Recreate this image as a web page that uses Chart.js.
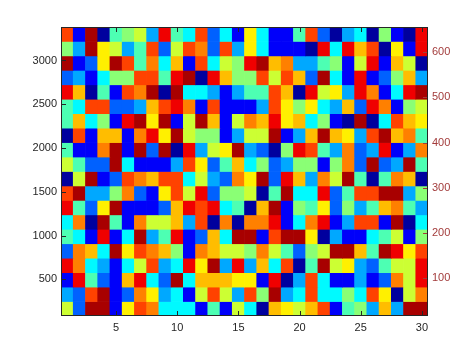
<!DOCTYPE html>
<html>
<head>
<meta charset="utf-8">
<script src="https://cdn.jsdelivr.net/npm/chart.js@4/dist/chart.umd.min.js"></script>
<style>
html,body{margin:0;padding:0;background:#fff;}
#wrap{width:474px;height:355px;}
</style>
</head>
<body>
<div id="wrap"><canvas id="c" width="474" height="355"></canvas></div>
<script>
// ---- data ----
const columns = Array.from({length:30},(_,i)=>i+1);
const rowCount = 20;
const rowStepLeft = 165;      // left-axis units per row
const rowStartLeft = 82.5;    // bottom edge of the first row (left axis)
const leftRange = [82.5, 3382.5];
const rightRange = [16, 656];
const xTicks = [5,10,15,20,25,30];
const leftTicks = [500,1000,1500,2000,2500,3000];
const rightTicks = [100,200,300,400,500,600];
// colour level of each jet step (0 = dark blue ... 13 = dark red)
const levelT = [0.03,0.12,0.22,0.29,0.37,0.45,0.51,0.575,0.64,0.69,0.75,0.81,0.89,0.96];
// cell levels, rows listed from top to bottom
const r01 = [11,1,13,0,5,6,7,3,12,5, 4,11,2,4,1,8,4,1,1,5, 11,2,0,3,4,0,6,1,0,12];
const r02 = [6,3,13,8,7,3,5,11,2,7, 11,10,2,11,3,8,4,1,1,1, 0,12,4,12,9,11,0,8,1,12];
const r03 = [13,1,2,8,13,11,5,10,4,9, 1,11,4,7,6,12,13,9,10,3, 3,5,6,1,7,12,1,9,7,0];
const r04 = [2,3,1,4,6,6,11,11,5,12, 13,0,12,9,6,6,11,7,11,9, 2,13,4,1,12,1,2,6,9,3];
const r05 = [12,9,0,5,1,11,10,13,0,13, 4,4,3,1,3,5,5,11,9,0, 12,7,8,3,12,10,1,4,12,13];
const r06 = [5,4,11,11,2,2,3,9,11,12, 10,1,11,1,1,1,3,11,8,6, 8,4,3,9,2,12,10,1,6,7];
const r07 = [5,9,4,6,1,12,13,8,13,1, 7,13,9,1,7,10,9,12,8,9, 4,6,1,0,13,0,4,11,9,8];
const r08 = [0,11,1,9,9,1,10,12,8,13, 7,6,6,1,3,7,7,13,1,3, 9,13,9,8,3,11,13,9,10,5];
const r09 = [5,1,1,10,13,1,13,2,13,0, 12,3,7,8,13,3,2,0,6,12, 11,5,3,10,2,3,12,1,3,10];
const r10 = [7,5,2,2,13,4,1,1,1,3, 11,8,2,5,9,4,6,2,3,6, 6,1,6,10,2,13,2,3,13,5];
const r11 = [0,7,13,1,2,11,10,9,11,11, 4,7,3,2,10,8,13,2,12,9, 3,10,7,13,5,0,5,10,9,0];
const r12 = [11,13,3,3,6,10,2,1,8,11, 7,12,2,6,6,7,0,5,13,4, 4,12,2,5,11,11,13,13,3,6];
const r13 = [12,5,2,8,13,1,1,1,2,9, 12,11,12,4,5,0,9,13,1,6, 5,8,2,6,3,5,9,10,5,3];
const r14 = [4,10,0,13,5,1,10,7,7,9, 3,11,0,10,0,10,10,12,1,4, 10,12,1,3,11,11,1,13,0,4];
const r15 = [5,4,1,12,1,4,13,3,5,12, 1,2,9,4,13,13,1,11,13,13, 8,0,3,1,1,4,5,7,1,6];
const r16 = [2,10,9,4,13,8,11,10,9,6, 1,10,9,7,7,6,10,7,5,2, 6,7,13,13,9,5,13,12,8,11];
const r17 = [12,10,4,3,1,4,7,11,3,4, 12,8,13,3,12,3,9,4,11,0, 5,13,7,8,3,2,5,7,7,12];
const r18 = [1,12,5,2,1,9,12,4,2,13, 4,9,9,9,8,8,1,12,0,3, 11,4,1,1,3,1,2,10,7,12];
const r19 = [3,2,11,13,1,2,10,8,3,4, 1,7,11,7,3,11,6,13,3,4, 11,4,4,6,4,11,8,0,7,10];
const r20 = [7,2,13,13,1,8,11,10,4,4, 4,1,5,1,7,4,0,9,8,7, 9,11,1,5,6,3,9,3,13,13];
const rowsTopDown = [r01,r02,r03,r04,r05,r06,r07,r08,r09,r10,r11,r12,r13,r14,r15,r16,r17,r18,r19,r20];

// ---- colour map ----
function clamp(v){return Math.max(0,Math.min(1,v));}
function jet(t){
  const r=clamp(1.5-Math.abs(4*t-3)), g=clamp(1.5-Math.abs(4*t-2)), b=clamp(1.5-Math.abs(4*t-1));
  return `rgb(${Math.round(r*255)},${Math.round(g*255)},${Math.round(b*255)})`;
}

const datasets = rowsTopDown.map((row, i) => {
  const k = rowCount - 1 - i; // index from bottom
  const lo = rowStartLeft + rowStepLeft * k, hi = lo + rowStepLeft;
  return {
    label: 'row ' + (k+1),
    data: row.map(() => [lo, hi]),
    backgroundColor: row.map(v => jet(levelT[v])),
    borderWidth: 0,
    grouped: false,
    barPercentage: 1,
    categoryPercentage: 1,
    yAxisID: 'y'
  };
});

const TXT = '#262626';
const RIGHT = '#a33c3c';
const FONT = {family:'Liberation Sans, Arial, sans-serif', size:11};

const inwardTicks = {
  id: 'inwardTicks',
  afterDraw(chart){
    const {ctx, chartArea:a, scales} = chart;
    const L = 5;
    ctx.save();
    ctx.lineWidth = 1;
    ctx.strokeStyle = TXT;
    ctx.beginPath();
    xTicks.forEach(v => {
      const x = Math.round(scales.x.getPixelForValue(columns.indexOf(v))) + 0.5;
      ctx.moveTo(x, a.bottom); ctx.lineTo(x, a.bottom - L);
      ctx.moveTo(x, a.top); ctx.lineTo(x, a.top + L);
    });
    leftTicks.forEach(v => {
      const y = Math.round(scales.y.getPixelForValue(v)) + 0.5;
      ctx.moveTo(a.left, y); ctx.lineTo(a.left + L, y);
    });
    ctx.stroke();
    ctx.strokeStyle = RIGHT;
    ctx.beginPath();
    rightTicks.forEach(v => {
      const y = Math.round(scales.y2.getPixelForValue(v)) + 0.5;
      ctx.moveTo(a.right, y); ctx.lineTo(a.right - L, y);
    });
    ctx.stroke();
    ctx.strokeStyle = TXT;
    ctx.strokeRect(Math.round(a.left)+0.5, Math.round(a.top)+0.5, Math.round(a.right-a.left)-1, Math.round(a.bottom-a.top)-1);
    ctx.restore();
  }
};

new Chart(document.getElementById('c'), {
  type: 'bar',
  data: { labels: columns, datasets },
  options: {
    responsive: false,
    animation: false,
    devicePixelRatio: 1,
    layout: { padding: { top: 27, left: 0, right: 0, bottom: 0 } },
    plugins: { legend: {display:false}, tooltip: {enabled:false} },
    scales: {
      x: {
        type: 'category',
        grid: {display:false, drawTicks:false},
        border: {display:false},
        afterBuildTicks: ax => { ax.ticks = xTicks.map(v => ({value: columns.indexOf(v)})); },
        afterFit: s => { s.height = 39; },
        ticks: { autoSkip:false, maxRotation:0, padding:5, color: TXT, font: FONT }
      },
      y: {
        type: 'linear', position: 'left',
        min: leftRange[0], max: leftRange[1],
        grid: {display:false, drawTicks:false},
        border: {display:false},
        afterBuildTicks: ax => { ax.ticks = leftTicks.map(v => ({value:v})); },
        afterFit: s => { s.width = 61; },
        ticks: { padding:4, color: TXT, font: FONT, callback: v => String(v) }
      },
      y2: {
        type: 'linear', position: 'right', display: true,
        min: rightRange[0], max: rightRange[1],
        grid: {display:false, drawTicks:false},
        border: {display:false},
        afterBuildTicks: ax => { ax.ticks = rightTicks.map(v => ({value:v})); },
        afterFit: s => { s.width = 46; },
        ticks: { padding:4, color: RIGHT, font: FONT, callback: v => String(v) }
      }
    }
  },
  plugins: [inwardTicks]
});
</script>
</body>
</html>
